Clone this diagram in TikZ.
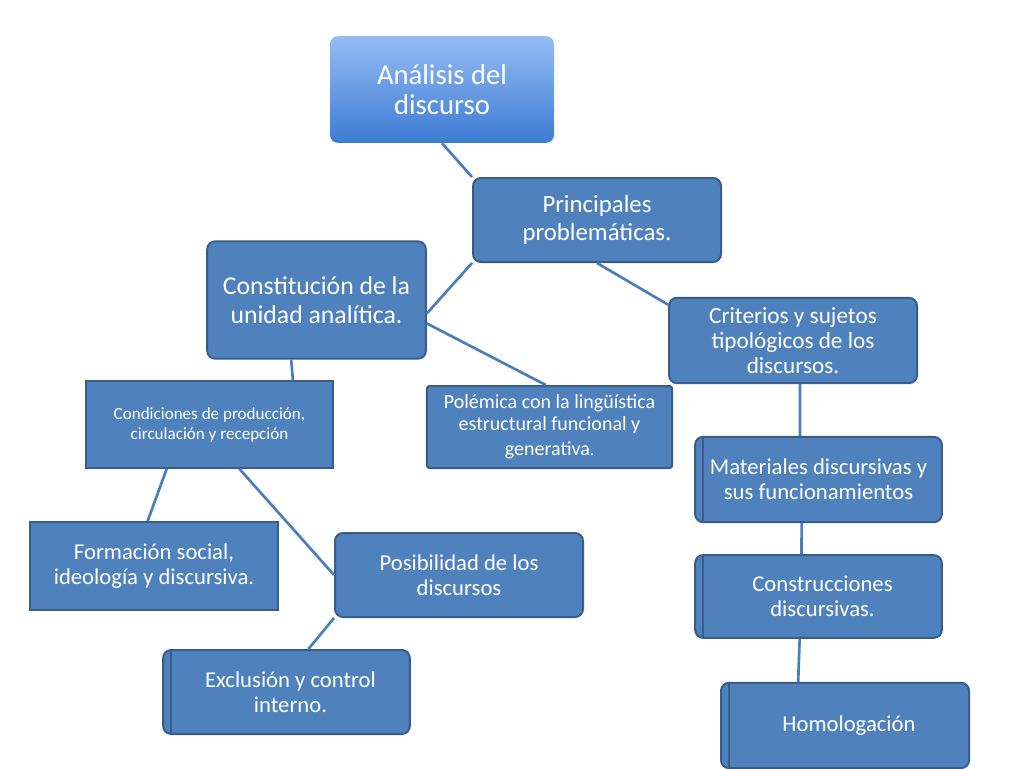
\documentclass[tikz,border=0pt]{standalone}
\usepackage{fontspec}
\setmainfont{Carlito}
\definecolor{boxblue}{HTML}{4F81BD}
\definecolor{boxedge}{HTML}{385D8A}
\definecolor{linkblue}{HTML}{4A7EBB}
\definecolor{topblue}{HTML}{95BCF4}
\definecolor{lowblue}{HTML}{3D7CD4}
\tikzset{
  box/.style={draw=boxedge, line width=1.5pt, fill=boxblue, text=white, align=center, rounded corners=6pt, inner sep=0pt},
  sqbox/.style={box, rounded corners=0pt},
  dblbox/.style={box, path picture={\draw[boxedge, line width=1.5pt] ([xshift=6pt]path picture bounding box.north west) -- ([xshift=6pt]path picture bounding box.south west);}},
  link/.style={draw=linkblue, line width=2pt},
}
\begin{document}
\begin{tikzpicture}[x=0.75pt, y=-0.75pt]
  \useasboundingbox (0,0) rectangle (1024,768);
  % top
  \node[rounded corners=6pt, top color=topblue, bottom color=lowblue, text=white, align=center, minimum width=168pt, minimum height=80pt, font=\fontsize{21.5}{22.5}\selectfont] (A) at (442,89.5) {Análisis del\\discurso};
  \node[box, minimum width=186pt, minimum height=63pt, font=\fontsize{18.6}{21}\selectfont] (P) at (597,220) {Principales\\problemáticas.};
  % left branch
  \node[box, minimum width=164pt, minimum height=88pt, font=\fontsize{19.3}{21.5}\selectfont] (C) at (316.5,300) {Constitución de la\\unidad analítica.};
  \node[sqbox, minimum width=185pt, minimum height=65pt, font=\fontsize{12.8}{15}\selectfont] (Cond) at (209.5,424.5) {Condiciones de producción,\\circulación y recepción};
  \node[sqbox, minimum width=186pt, minimum height=66pt, font=\fontsize{17}{19}\selectfont] (F) at (154,566) {Formación social,\\ideología y discursiva.};
  \node[box, minimum width=186pt, minimum height=63pt, font=\fontsize{17}{19}\selectfont] (Pos) at (459,575) {Posibilidad de los\\discursos};
  \node[dblbox, minimum width=185pt, minimum height=63pt, font=\fontsize{17}{19}\selectfont] (E) at (286.5,692) {\hspace*{6pt}Exclusión y control\\\hspace*{6pt}interno.};
  % middle
  \node[box, rounded corners=2pt, minimum width=184pt, minimum height=61.5pt, font=\fontsize{15}{16.5}\selectfont] (Pol) at (549.5,427) {Polémica con la lingüística\\estructural funcional y\\[2pt]generativa{\large.}};
  % right branch
  \node[box, minimum width=186pt, minimum height=64pt, font=\fontsize{17.4}{19}\selectfont] (K) at (793,340.5) {Criterios y sujetos\\tipológicos de los\\discursos.};
  \node[dblbox, minimum width=185pt, minimum height=64pt, font=\fontsize{17}{19}\selectfont] (M) at (818.5,479.5) {Materiales discursivas y\\sus funcionamientos};
  \node[dblbox, minimum width=185pt, minimum height=62pt, font=\fontsize{17}{19}\selectfont] (Cons) at (818.5,596.5) {\hspace*{6pt}Construcciones\\\hspace*{6pt}discursivas.};
  \node[dblbox, minimum width=186pt, minimum height=64pt, font=\fontsize{17}{19}\selectfont] (H) at (845,725.5) {\hspace*{6pt}Homologación};
  % links
  \path[link]
    (A.south) edge (P.north west)
    (P.south west) edge (C.-7)
    (C.-12) edge (Pol.95)
    (P.south) edge (K.164)
    (C.247) edge (Cond.28)
    (Cond.226) edge (F.98)
    (Cond.-56) edge (Pos.west)
    (Pos.south west) edge (E.63)
    (K.-81) edge (M.113)
    (M.249) edge (Cons.112)
    (Cons.246) edge (H.137);
\end{tikzpicture}
\end{document}
